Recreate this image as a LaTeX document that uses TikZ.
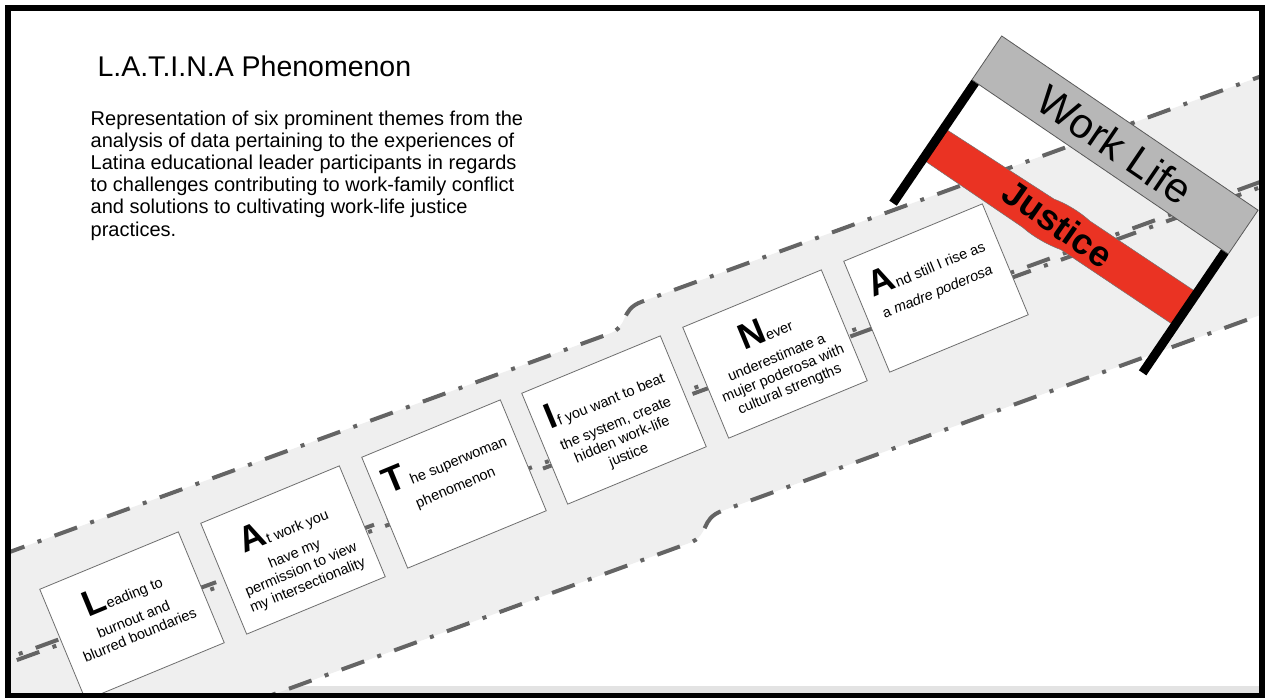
\documentclass[tikz,border=0pt]{standalone}
\usepackage{fontspec}
\setmainfont{Liberation Sans}
\usetikzlibrary{calc}
\definecolor{roadgray}{HTML}{EFEFEF}
\definecolor{lanegray}{HTML}{646464}
\definecolor{boxgray}{HTML}{6E6E6E}
\definecolor{signgray}{HTML}{B7B7B7}
\definecolor{justred}{HTML}{EA3323}
\definecolor{stripgray}{HTML}{E3E3E3}
\newcommand{\bigletter}[1]{{\fontsize{36}{36}\selectfont\bfseries #1}}
\tikzset{
  laneline/.style={draw=lanegray, line width=4pt, dash pattern=on 24pt off 14pt on 4pt off 14pt},
  themebox/.style={rectangle, draw=boxgray, fill=white, line width=0.8pt, minimum width=150pt, minimum height=120pt, inner sep=0pt, rotate=22.5},
  themetext/.style={align=center, inner sep=0pt, anchor=north, rotate=22.5, font=\fontsize{14.5}{17}\selectfont},
  signbar/.style={rectangle, draw=black!65, fill=signgray, line width=0.8pt, minimum width=310pt, minimum height=53pt, inner sep=0pt, rotate=-34.2, font=\fontsize{42}{42}\selectfont},
  post/.style={line width=9pt, black},
}

\begin{document}
\begin{tikzpicture}[x=1pt, y=-1pt]
\useasboundingbox (0,0) rectangle (1267,697);
\fill[white] (0,0) rectangle (1267,697);
\fill[stripgray] (8,686) rectangle (1262,694);

\begin{scope}
\clip (8,8) rectangle (1262,696);
\begin{scope}[rotate=20]
\fill[roadgray] (-300,522) -- (458,522) .. controls (480,522) and (476,503) .. (500,503) -- (1300,503)
  -- (1300,727) -- (504,727) .. controls (480,727) and (484,746) .. (462,746) -- (-300,746) -- cycle;
\draw[laneline] (-300,522) -- (458,522) .. controls (480,522) and (476,503) .. (500,503) -- (1300,503);
\draw[laneline] (-300,746) -- (462,746) .. controls (484,746) and (480,727) .. (504,727) -- (1300,727);
\draw[laneline] (-300,621) -- (482,621);
\draw[laneline, dash phase=22pt] (-300,626) -- (482,626);
\draw[laneline] (482,602) -- (1300,602);
\draw[laneline, dash phase=22pt] (482,607) -- (1300,607);
\end{scope}
\end{scope}

\node[anchor=base west, font=\fontsize{28.5}{34}\selectfont] (title) at (94,76) {L.A.T.I.N.A Phenomenon};
\node[anchor=north west, align=left, inner sep=0pt, font=\fontsize{20}{22.2}\selectfont] (intro) at (90.5,110.5) {
Representation of six prominent themes from the\\
analysis of data pertaining to the experiences of\\
Latina educational leader participants in regards\\
to challenges contributing to work-family conflict\\
and solutions to cultivating work-life justice\\
practices.
};

\node[themebox] (L) at (132,616) {};
\node[themetext] (Ltxt) at ($(L.north)!20pt!(L.south)$) {\bigletter{L}eading to\\[7pt] burnout and\\ blurred boundaries};
\node[themebox] (A1) at (293,550) {};
\node[themetext] (A1txt) at ($(A1.north)!20pt!(A1.south)$) {\bigletter{A}t work you\\[7pt] have my\\ permission to view\\ my intersectionality};
\node[themebox] (T) at (454,484) {};
\node[themetext] (Ttxt) at ($(T.north)!20pt!(T.south)$) {\bigletter{T}\ he superwoman\\[7pt] phenomenon};
\node[themebox] (I) at (614,420) {};
\node[themetext] (Itxt) at ($(I.north)!20pt!(I.south)$) {\bigletter{I}f you want to beat\\[7pt] the system, create\\ hidden work-life\\ justice};
\node[themebox] (N) at (775,354) {};
\node[themetext] (Ntxt) at ($(N.north)!20pt!(N.south)$) {\bigletter{N}ever\\[7pt] underestimate a\\ mujer poderosa with\\ cultural strengths};
\node[themebox] (A2) at (936,288) {};
\node[themetext] (A2txt) at ($(A2.north)!20pt!(A2.south)$) {\bigletter{A}nd still I rise as\\[7pt] a \textit{madre poderosa}};

\node[signbar] (bar) at (1115,145) {Work Life};
\begin{scope}[shift={(bar.center)}, rotate=-34.2]
\filldraw[fill=justred, draw=black!55, line width=0.5pt]
  (-150,82) -- (-20,79) .. controls (-8,76) and (8,75) .. (22,77) -- (150,76)
  -- (150,116) -- (14,117) .. controls (2,120) and (-14,122) .. (-30,120) -- (-150,120) -- cycle;
\node[rotate=-35, font=\fontsize{36}{36}\selectfont\bfseries] (justice) at (-3,97) {Justice};
\end{scope}
\draw[post] ($(bar.south west)!4.5pt!(bar.south east)$) -- ++(124.2:146);
\draw[post] ($(bar.south east)!4.5pt!(bar.south west)$) -- ++(124.2:146);

\draw[line width=5.5pt] (8,8) rectangle (1262,696);
\end{tikzpicture}
\end{document}
